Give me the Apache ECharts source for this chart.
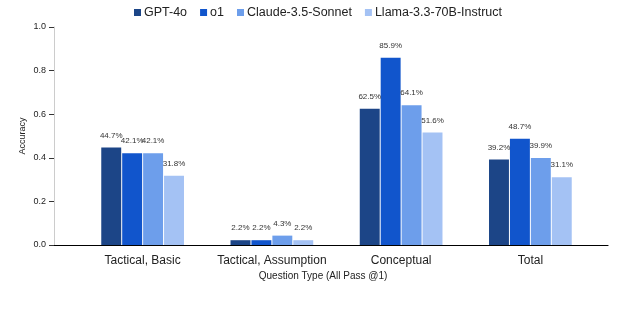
<!DOCTYPE html>
<html><head><meta charset="utf-8">
<script src="https://cdn.jsdelivr.net/npm/echarts@6/dist/echarts.min.js"></script>
<style>html,body{margin:0;padding:0;background:#fff}#c{width:620px;height:310px}</style>
</head><body><div id="c"></div>
<script>
var categories = ['Tactical, Basic', 'Tactical, Assumption', 'Conceptual', 'Total'];
var seriesNames = ['GPT-4o', 'o1', 'Claude-3.5-Sonnet', 'Llama-3.3-70B-Instruct'];
var gpt4o = [0.447, 0.022, 0.625, 0.392];
var o1 = [0.421, 0.022, 0.859, 0.487];
var claude = [0.421, 0.043, 0.641, 0.399];
var llama = [0.318, 0.022, 0.516, 0.311];
var yTicks = [0, 0.2, 0.4, 0.6, 0.8, 1.0];
var colors = ['#1c4587', '#1155cc', '#6d9eeb', '#a4c2f4'];
var font = 'Liberation Sans, Arial, sans-serif';

var chart = echarts.init(document.getElementById('c'));
var values = [gpt4o, o1, claude, llama];
var series = values.map(function (v, i) {
  return {
    name: seriesNames[i], type: 'bar', xAxisIndex: 1, yAxisIndex: 1,
    data: v, barCategoryGap: '36%', barGap: '5%',
    itemStyle: { color: colors[i] },
    label: {
      show: true, position: 'top', distance: 8, fontSize: 8, color: '#333', fontFamily: font,
      formatter: function (p) { return (p.value * 100).toFixed(1) + '%'; }
    }
  };
});
chart.setOption({
  animation: false,
  textStyle: { fontFamily: font },
  legend: {
    top: 1, left: 129, itemWidth: 7, itemHeight: 7, itemGap: 13, icon: 'rect',
    textStyle: { fontSize: 12.5, color: '#222', fontFamily: font, padding: [0, 0, 0, -2] },
    data: seriesNames
  },
  grid: [
    { left: 54, right: 12, top: 27, bottom: 65 },
    { left: 78, right: 25, top: 27, bottom: 65 }
  ],
  xAxis: [
    { type: 'category', gridIndex: 0, data: [], name: 'Question Type (All Pass @1)',
      nameLocation: 'middle', nameGap: 26,
      nameTextStyle: { fontSize: 10, color: '#222', fontFamily: font, padding: [0, 16, 0, 0] },
      axisLine: { lineStyle: { color: '#000', width: 1.2 } }, axisTick: { show: false }, axisLabel: { show: false } },
    { type: 'category', gridIndex: 1, data: categories,
      axisLine: { show: false }, axisTick: { show: false },
      axisLabel: { interval: 0, fontSize: 12, color: '#222', margin: 10, fontFamily: font } }
  ],
  yAxis: [
    { type: 'value', gridIndex: 0, min: 0, max: 1, interval: 0.2, name: 'Accuracy',
      nameLocation: 'middle', nameGap: 27, nameMoveOverlap: false,
      nameTextStyle: { fontSize: 9, color: '#222', fontFamily: font },
      axisLine: { show: true, lineStyle: { color: '#ccc' } },
      axisTick: { show: true, length: 5, lineStyle: { color: '#333' } },
      splitLine: { show: false },
      axisLabel: { fontSize: 9, color: '#222', margin: 8, fontFamily: font,
        formatter: function (v) { return v.toFixed(1); } } },
    { type: 'value', gridIndex: 1, min: 0, max: 1, interval: 0.2, show: false, splitLine: { show: false } }
  ],
  series: series
});
</script></body></html>
